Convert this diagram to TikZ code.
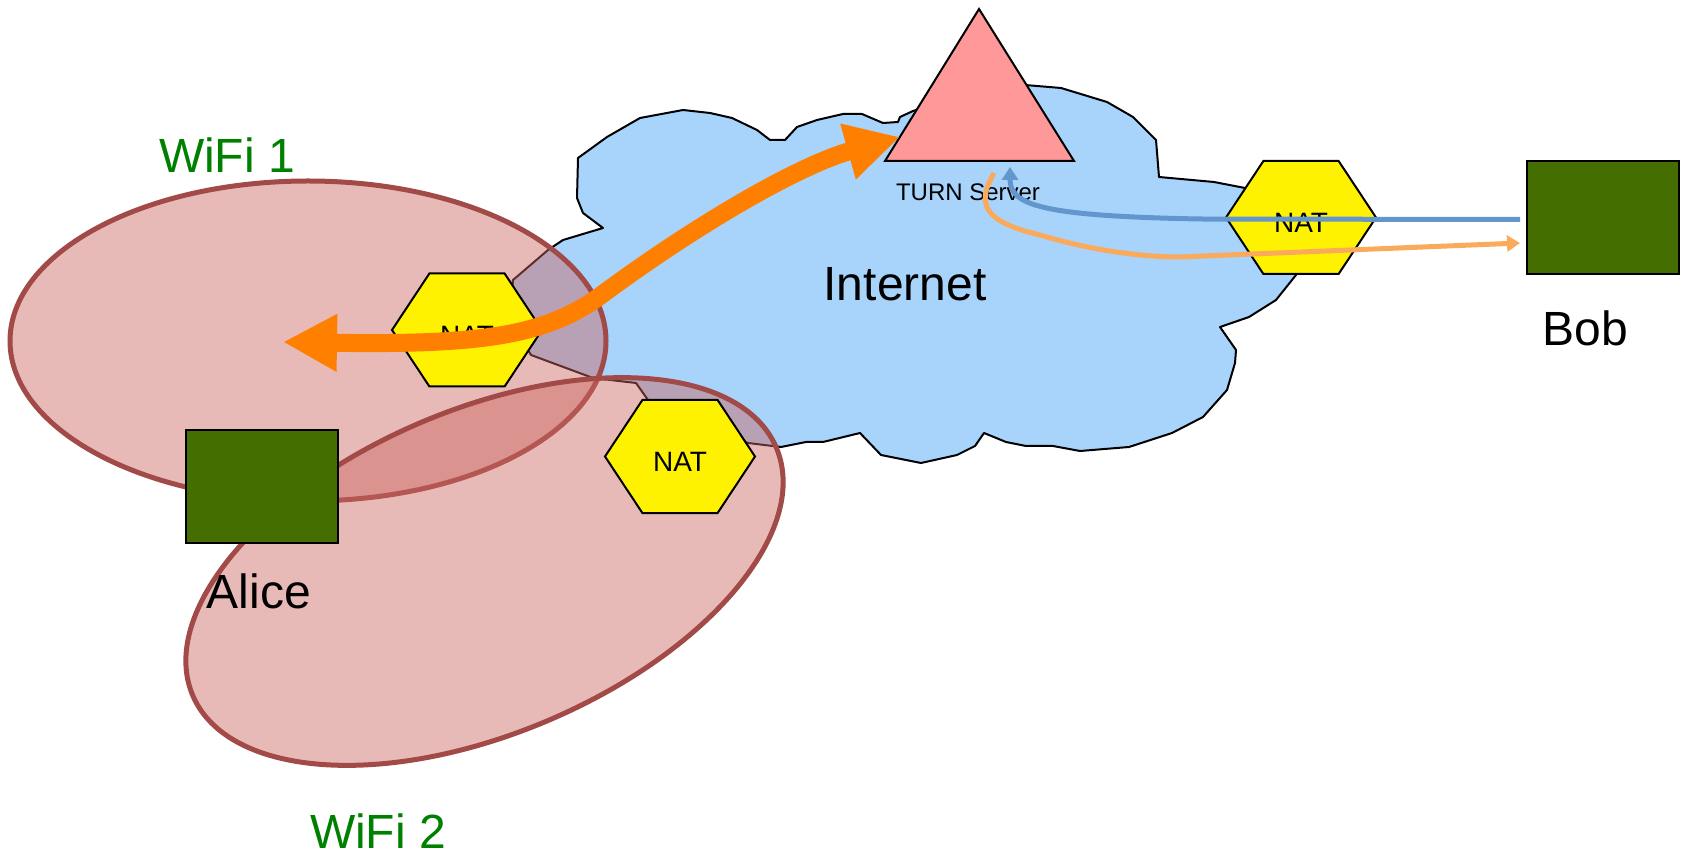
\documentclass[tikz,border=0pt]{standalone}
\usepackage{fontspec}
\setmainfont{Liberation Sans}
\usepackage{tikz}
\usetikzlibrary{arrows.meta,shapes.geometric,shapes.symbols}
\definecolor{cloudblue}{RGB}{168,212,252}
\definecolor{turnpink}{RGB}{255,153,153}
\definecolor{hostgreen}{RGB}{68,110,0}
\definecolor{wifiedge}{RGB}{161,74,71}
\definecolor{wififill}{RGB}{204,101,96}
\definecolor{wifitext}{RGB}{0,128,0}
\definecolor{relayorange}{RGB}{255,128,0}
\definecolor{pathblue}{RGB}{98,150,204}
\definecolor{pathorange}{RGB}{250,170,90}

\begin{document}
\begin{tikzpicture}[
  x=0.5pt, y=-0.5pt,
  my wifi/.style={
    ellipse, draw=wifiedge, line width=2.5pt,
    fill=wififill, fill opacity=0.45, inner sep=0pt,
  },
  my nat/.style={
    signal, signal to=east and west, signal pointer angle=113,
    draw, fill=yellow, line width=1pt, inner sep=0pt,
    minimum width=75pt, minimum height=56.5pt,
    text height=15.5pt, text depth=0pt,
    font=\fontsize{14}{16}\selectfont,
  },
  my host/.style={
    draw, fill=hostgreen, line width=1pt,
    minimum width=76pt, minimum height=56.5pt,
  },
  my label/.style={font=\fontsize{24}{28}\selectfont},
  my relay/.style={
    draw=relayorange, line width=9pt,
    {Triangle[length=27pt,width=27pt]}-{Triangle[length=27pt,width=27pt]},
  },
  my path/.style={line width=2.5pt, -{Triangle[length=6.5pt,width=8pt]}},
  ]
  \useasboundingbox (0,0) rectangle (1685,860);
  \draw[fill=cloudblue, line width=1pt, line join=round]
    (603,228) -- (583,213) -- (577,198) -- (578,158) -- (607,137) -- (640,118)
    -- (683,110) -- (710,113) -- (732,118) -- (757,130) -- (770,140) -- (785,140)
    -- (797,127) -- (817,120) -- (843,114) -- (862,114) -- (883,123) -- (898,122)
    -- (900,117) -- (913,111) -- (960,95) -- (1000,86) -- (1025,85) -- (1061,88)
    -- (1107,102) -- (1133,117) -- (1156,140) -- (1159,177) -- (1214,182)
    -- (1245,188) -- (1290,215) -- (1296,275) -- (1276,300) -- (1249,317)
    -- (1220,327) -- (1236,350) -- (1235,363) -- (1227,390) -- (1203,417)
    -- (1172,433) -- (1129,447) -- (1080,451) -- (1053,446) -- (1026,446)
    -- (1006,442) -- (984,433) -- (975,446) -- (957,455) -- (921,463) -- (881,455)
    -- (860,433) -- (823,442) -- (806,442) -- (781,447) -- (748,443) -- (700,425)
    -- (648,400) -- (636,383) -- (593,378) -- (531,355) -- (510,320) -- (513,280)
    -- (548,250) -- (563,240) -- cycle;
  \node[my wifi, minimum width=298pt, minimum height=160pt] (wlanA) at (308,341) {};
  \node[my wifi, minimum width=317pt, minimum height=162pt, rotate=23] (wlanB) at (484.5,571.5) {};
  \coordinate (T) at (979,9);
  \coordinate (TL) at (885,161);
  \coordinate (TR) at (1074,161);
  \draw[fill=turnpink, line width=1pt] (TL) -- (T) -- (TR) -- cycle;
  \node[font=\fontsize{12}{14}\selectfont] (turnname) at (968,192) {TURN Server};
  \node[my label] (inet) at (905,284) {Internet};
  \node[my nat] (natL) at (467,330) {NAT};
  \node[my nat] (natB) at (680,456.5) {NAT};
  \node[my nat] (natR) at (1301,217.5) {NAT};
  \node[my host] (alice) at (262,486.5) {};
  \node[my host] (bob) at (1603,217.5) {};
  \node[my label] (alicename) at (259,591) {Alice};
  \node[my label] (bobname) at (1585,328) {Bob};
  \node[my label, text=wifitext] (wifi1) at (227,155) {WiFi 1};
  \node[my label, text=wifitext] (wifi2) at (378,831) {WiFi 2};
  \coordinate (L) at (283,342);
  \coordinate (R) at (900,137);
  \coordinate (U) at (1010,167);
  \coordinate (V) at (994,173);
  \draw[my relay] (L) .. controls (480,345) and (545,336) .. (600,296)
    .. controls (700,222) and (800,165) .. (R);
  \draw[my path, draw=pathblue] ([xshift=-3pt,yshift=-1pt]bob.west) -- (1200,219)
    .. controls (1040,216) and (1010,205) .. (U);
  \draw[my path, draw=pathorange] (V) .. controls (975,205) and (985,222) .. (1040,235)
    .. controls (1090,250) and (1140,257) .. (1180,257) -- ([xshift=-3pt,yshift=-12.75pt]bob.west);
\end{tikzpicture}
\end{document}
